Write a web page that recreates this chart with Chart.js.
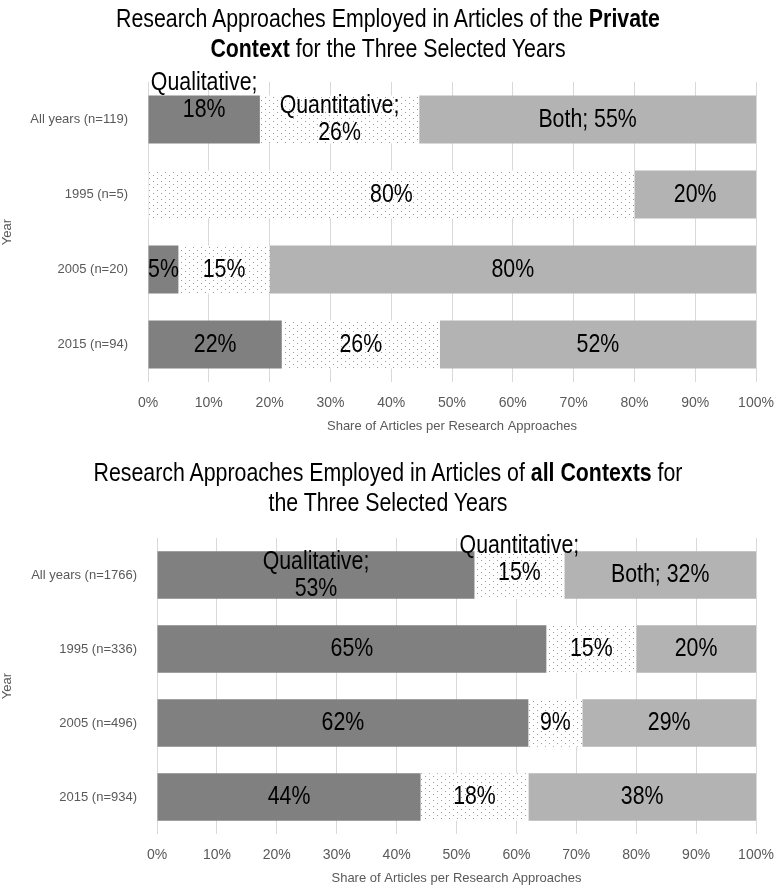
<!DOCTYPE html>
<html>
<head>
<meta charset="utf-8">
<script src="https://cdn.jsdelivr.net/npm/chart.js@4.4.0/dist/chart.umd.min.js"></script>
<style>
  body { margin: 0; background: #fff; width: 776px; height: 889px; position: relative; overflow: hidden;
         font-family: "Liberation Sans", Arial, sans-serif; }
  .box { position: absolute; left: 0; width: 776px; }
  /* the original uses a narrow face: squeeze a regular sans horizontally */
  .title { position: absolute; left: 0; width: 776px; text-align: center; font-size: 26px; line-height: 30px;
           color: #000; pointer-events: none; transform: scaleX(0.82); transform-origin: 388px 0; }
</style>
</head>
<body>
<div class="box" style="top:0;height:445px"><canvas id="chartPrivate"></canvas></div>
<div class="title" style="top:3px">Research Approaches Employed in Articles of the <b>Private</b><br><b>Context</b> for the Three Selected Years</div>
<div class="box" style="top:445px;height:444px"><canvas id="chartAll"></canvas></div>
<div class="title" style="top:457px">Research Approaches Employed in Articles of <b>all Contexts</b> for<br>the Three Selected Years</div>

<script>
// data (shares in %, labels show the rounded value)
const series = ["Qualitative", "Quantitative", "Both"];

const privateYears = ["All years (n=119)", "1995 (n=5)", "2005 (n=20)", "2015 (n=94)"];
const privateQual = [18.4, 0, 5, 22];
const privateQuant = [26.2, 80, 15, 26];
const privateBoth = [55.4, 20, 80, 52];

const allYears = ["All years (n=1766)", "1995 (n=336)", "2005 (n=496)", "2015 (n=934)"];
const allQual = [53, 65, 62, 44];
const allQuant = [15, 15, 9, 18];
const allBoth = [32, 20, 29, 38];

const FONT = '"Liberation Sans", Arial, sans-serif';
const GREY_TEXT = "#595959";
const SQUEEZE = 0.82;

// dotted fill used for the "Quantitative" bars
function dotPattern() {
  const c = document.createElement("canvas");
  c.width = 8; c.height = 6;
  const g = c.getContext("2d");
  g.fillStyle = "#fff";
  g.fillRect(0, 0, 8, 6);
  g.fillStyle = "#9a9a9a";
  g.fillRect(1, 1, 1, 1);
  g.fillRect(5, 4, 1, 1);
  return g.createPattern(c, "repeat");
}

// value labels in the middle of every segment; first row also carries the series name
const barLabels = {
  id: "barLabels",
  afterDatasetsDraw(chart, args, opts) {
    const ctx = chart.ctx;
    const lh = 27;
    ctx.save();
    ctx.font = "26px " + FONT;
    ctx.fillStyle = "#000";
    ctx.textAlign = "center";
    ctx.textBaseline = "middle";
    chart.data.datasets.forEach((ds, di) => {
      chart.getDatasetMeta(di).data.forEach((bar, i) => {
        const v = ds.data[i];
        if (!v) return;
        const pct = Math.round(v) + "%";
        const p = bar.getProps(["x", "y", "base"], true);
        let lines = [pct];
        let dy = 0;
        if (i === 0) {
          const full = ds.label + "; " + pct;
          lines = ctx.measureText(full).width * SQUEEZE > 150 ? [ds.label + ";", pct] : [full];
          dy = (opts.nudge && opts.nudge[di]) || 0;
        }
        const cx = (p.x + p.base) / 2;
        const top = p.y + dy - (lines.length - 1) * lh / 2;
        lines.forEach((l, k) => {
          ctx.save();
          ctx.translate(cx, top + k * lh);
          ctx.scale(SQUEEZE, 1);
          ctx.fillText(l, 0, 0);
          ctx.restore();
        });
      });
    });
    ctx.restore();
  }
};

function makeChart(id, years, qual, quant, both, yWidth, padTop, padBottom, nudge) {
  const ctx = document.getElementById(id).getContext("2d");
  return new Chart(ctx, {
    type: "bar",
    data: {
      labels: years,
      datasets: [
        { label: series[0], data: qual, backgroundColor: "#808080" },
        { label: series[1], data: quant, backgroundColor: dotPattern() },
        { label: series[2], data: both, backgroundColor: "#b3b3b3" }
      ]
    },
    options: {
      indexAxis: "y",
      responsive: true,
      maintainAspectRatio: false,
      animation: false,
      categoryPercentage: 1,
      barPercentage: 0.64,
      layout: { padding: { top: padTop, right: 20, bottom: padBottom, left: 0 } },
      plugins: {
        legend: { display: false },
        tooltip: { enabled: false },
        barLabels: { nudge: nudge }
      },
      scales: {
        x: {
          stacked: true,
          min: 0,
          max: 100,
          ticks: {
            stepSize: 10,
            padding: 13,
            color: GREY_TEXT,
            font: { family: FONT, size: 14 },
            callback: v => v + "%"
          },
          grid: { color: "#d9d9d9", drawTicks: false },
          border: { display: false },
          title: {
            display: true,
            text: "Share of Articles per Research Approaches",
            color: GREY_TEXT,
            font: { family: FONT, size: 13 },
            padding: { top: 2, bottom: 0 }
          },
          afterFit(s) {
            s.height = 52;
            s.paddingLeft = 0;
            s.paddingRight = 0;
          }
        },
        y: {
          stacked: true,
          ticks: { padding: 12, color: GREY_TEXT, font: { family: FONT, size: 13 } },
          grid: { display: false },
          border: { display: false },
          title: {
            display: true,
            text: "Year",
            color: GREY_TEXT,
            font: { family: FONT, size: 13 },
            padding: 0
          },
          afterFit(s) { s.width = yWidth; }
        }
      }
    },
    plugins: [barLabels]
  });
}

makeChart("chartPrivate", privateYears, privateQual, privateQuant, privateBoth, 148, 82, 11, { 0: -23 });
makeChart("chartAll", allYears, allQual, allQuant, allBoth, 157, 93, 3, { 1: -16 });
</script>
</body>
</html>
